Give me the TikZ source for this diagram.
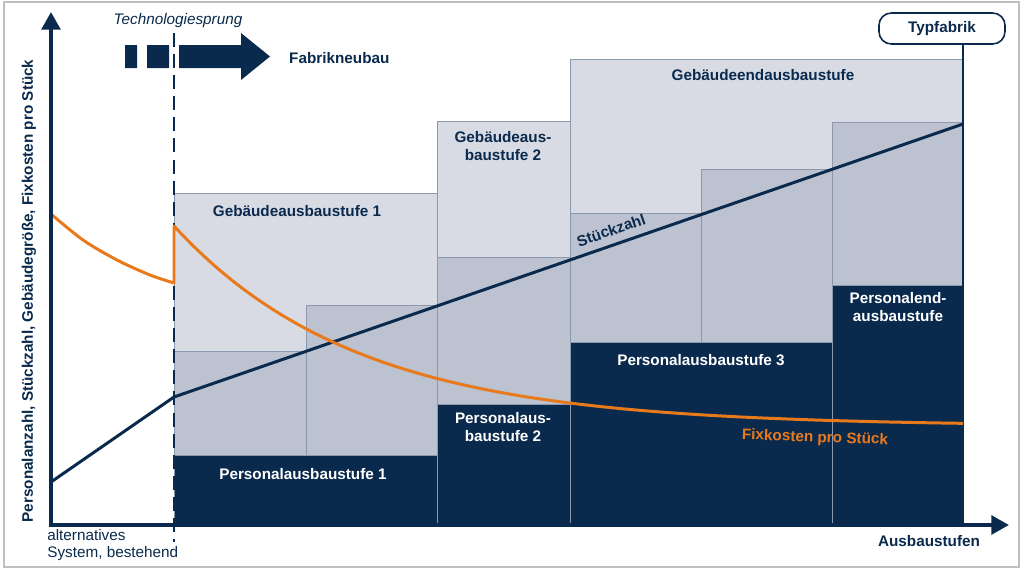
\documentclass[tikz,border=0pt]{standalone}
\usepackage{fontspec}
\setmainfont{Liberation Sans}
\usetikzlibrary{arrows.meta,positioning}

\definecolor{navy}{RGB}{10,42,77}
\definecolor{hellgrau}{RGB}{217,219,228}
\definecolor{mittelgrau}{RGB}{188,194,208}
\definecolor{kante}{RGB}{140,152,174}
\definecolor{fixorange}{RGB}{232,122,28}

\begin{document}
\begin{tikzpicture}[x=0.02cm,y=-0.02cm,>={Triangle[length=10pt,width=10.5pt]},
                    font=\fontsize{8.7}{9.8}\selectfont\bfseries,text=navy]
  \tikzstyle{geb}=[fill=hellgrau,draw=kante,line width=0.4pt]
  \tikzstyle{stk}=[fill=mittelgrau,draw=kante,line width=0.4pt]
  \tikzstyle{pers}=[fill=navy,draw=kante,line width=0.4pt]
  \tikzstyle{stufe}=[align=center,inner sep=0pt]
  \tikzstyle{normal}=[font=\fontsize{8.7}{9.8}\selectfont]

  \useasboundingbox (0,0) rectangle (1024,572);
  \draw[black!25,line width=0.8pt] (4,2) rectangle (1019,567);

  \draw[geb] (174,193) rectangle (437,525);
  \draw[geb] (437,121) rectangle (570,525);
  \draw[geb] (570,59) rectangle (963,525);
  \foreach \xa/\xb/\yt in {174/306/351,306/437/305,437/570/257,570/701/213,701/832/169,832/963/122}
    \draw[stk] (\xa,\yt) rectangle (\xb,525);
  \foreach \xa/\xb/\yt in {174/437/455,437/570/404,570/832/342,832/963/285}
    \draw[pers] (\xa,\yt) rectangle (\xb,526);

  \node[stufe] (geb1)   at (297,211) {Gebäudeausbaustufe 1};
  \node[stufe] (geb2)   at (503,146) {Gebäudeaus-\\baustufe 2};
  \node[stufe] (gebend) at (763,75)  {Gebäudeendausbaustufe};
  \node[stufe,text=white] (pers1)   at (303,474) {Personalausbaustufe 1};
  \node[stufe,text=white] (pers2)   at (503,427) {Personalaus-\\baustufe 2};
  \node[stufe,text=white] (pers3)   at (701,360) {Personalausbaustufe 3};
  \node[stufe,text=white] (persend) at (898,307) {Personalend-\\ausbaustufe};

  \node[draw=navy,line width=0.9pt,rounded corners=7pt,minimum width=2.52cm,
        minimum height=0.62cm] (typ) at (942,28.5) {Typfabrik};
  \coordinate (typfuss) at (963,525);
  \draw[navy,line width=1.2pt] (typ.south -| typfuss) -- (typfuss);

  \coordinate (sprungoben) at (174,33);
  \coordinate (sprungunten) at (174,542);
  \draw[navy,line width=1.1pt,dash pattern=on 8pt off 4pt] (sprungoben) -- (sprungunten);
  \node[normal,font=\fontsize{8.7}{9.8}\selectfont\itshape] (techno) at (178,21) {Technologiesprung};
  \fill[navy] (125,45) rectangle (137,68) (147,45) rectangle (169,68);
  \fill[navy] (179,45) -- (241,45) -- (241,33) -- (270,56.5) -- (241,80) -- (241,68) -- (179,68) -- cycle;
  \node[anchor=west] (neubau) at (283,58) {Fabrikneubau};

  \coordinate (s0) at (51,482);
  \coordinate (s1) at (174,397);
  \coordinate (s2) at (963,124);
  \draw[navy,line width=1.7pt] (s0) -- (s1) -- node[pos=0.56,sloped,above=1pt] (stueck) {Stückzahl} (s2);

  \draw[fixorange,line width=1.7pt,line join=round]
    plot[smooth] coordinates {(51,214) (83,240) (117,260) (150,275) (174,283)}
    -- plot[domain=174:963,samples=80] (\x,{426-200*exp((174-\x)/183)});
  \node[text=fixorange,rotate=-2] (fix) at (815,438) {Fixkosten pro Stück};

  \coordinate (yspitze) at (51,12);
  \coordinate (ursprung) at (51,525);
  \coordinate (xspitze) at (1009,525);
  \draw[navy,line width=2.3pt,<->] (yspitze) -- (ursprung) -- (xspitze);
  \node[rotate=90] (yachse) at (29,291) {Personalanzahl, Stückzahl, Gebäudegröße, Fixkosten pro Stück};
  \node (xachse) at (929,541) {Ausbaustufen};
  \node[normal,align=left,anchor=north west,inner sep=0pt] (alt) at (47,529) {alternatives\\System, bestehend};
\end{tikzpicture}
\end{document}
